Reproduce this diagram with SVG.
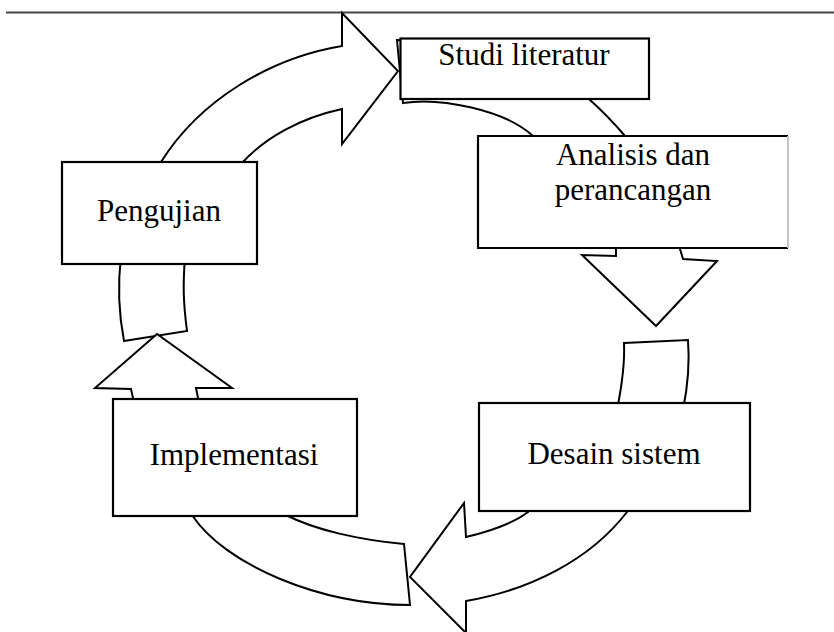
<svg xmlns="http://www.w3.org/2000/svg" width="834" height="632" viewBox="0 0 834 632">
<style>
.arr{fill:#fff;stroke:#000;stroke-width:2;stroke-linejoin:miter}
.box{fill:#fff;stroke:#000;stroke-width:2.2}
.lbl{font-family:"Liberation Serif","Times New Roman",serif;font-size:31px;fill:#000;text-anchor:middle}
</style>
<rect width="834" height="632" fill="#fff"/>
<line x1="6" y1="12.5" x2="834" y2="12.5" stroke="#444" stroke-width="2"/>
<g id="connectors">
  <path id="arrow-pengujian-studi" class="arr" d="M161,172 L161,162 C200,100 270,58 342,46 L342,13 L398,71 L342,144 L342,109 C300,118 265,138 243,162 L243,172 Z"/>
  <path id="arrow-studi-analisis" class="arr" d="M397,40 Q530,45 589,99 Q608,116 625,136 L680,249 L683,259 L717,261 L656,326 L582,255 L616,256 L616,249 L533,136 C505,110 440,97 403,103 Z"/>
  <path id="arrow-analisis-desain" class="arr" d="M624,343 L688,340 C690,365 688,385 683,410 L617,410 C622,385 625,365 624,343 Z"/>
  <path id="arrow-desain-implementasi" class="arr" d="M627,504 L627,512 C590,560 530,590 466,601 L466,633 L410,577 L464,503 L466,537 C495,530 515,522 528,512 L528,504 Z"/>
  <path id="arrow-implementasi-band" class="arr" d="M187,505 L192,515 C225,565 320,605 410,605 L404,544 C360,540 315,530 286,515 L286,505 Z"/>
  <path id="arrow-implementasi-pengujian-tail" class="arr" d="M124,341 L187,331 C183,300 183,285 185,256 L121,256 C117,290 119,315 124,341 Z"/>
  <path id="arrow-implementasi-pengujian-head" class="arr" d="M133,404 L133,398 L131,389 L95,388 L157,334 L232,388 L196,388 L198,398 L198,404 Z"/>
</g>
<g id="node-studi">
  <rect class="box" x="400.5" y="38.5" width="248.5" height="60.5"/>
  <text class="lbl" x="524" y="65">Studi literatur</text>
</g>
<g id="node-analisis">
  <rect x="478" y="136" width="310" height="112" fill="#fff"/>
  <path d="M788,136 L478,136 L478,248 L788,248" fill="none" stroke="#000" stroke-width="2.2"/>
  <line x1="788" y1="136" x2="788" y2="248" stroke="#c4c4c4" stroke-width="2"/>
  <text class="lbl" x="633" y="165">Analisis dan</text>
  <text class="lbl" x="633" y="200">perancangan</text>
</g>
<g id="node-desain">
  <rect class="box" x="479" y="403" width="271" height="108"/>
  <text class="lbl" x="614" y="464">Desain sistem</text>
</g>
<g id="node-implementasi">
  <rect class="box" x="113" y="399" width="244" height="117"/>
  <text class="lbl" x="234" y="465">Implementasi</text>
</g>
<g id="node-pengujian">
  <rect class="box" x="62" y="162" width="195" height="102"/>
  <text class="lbl" x="159" y="221">Pengujian</text>
</g>
</svg>
